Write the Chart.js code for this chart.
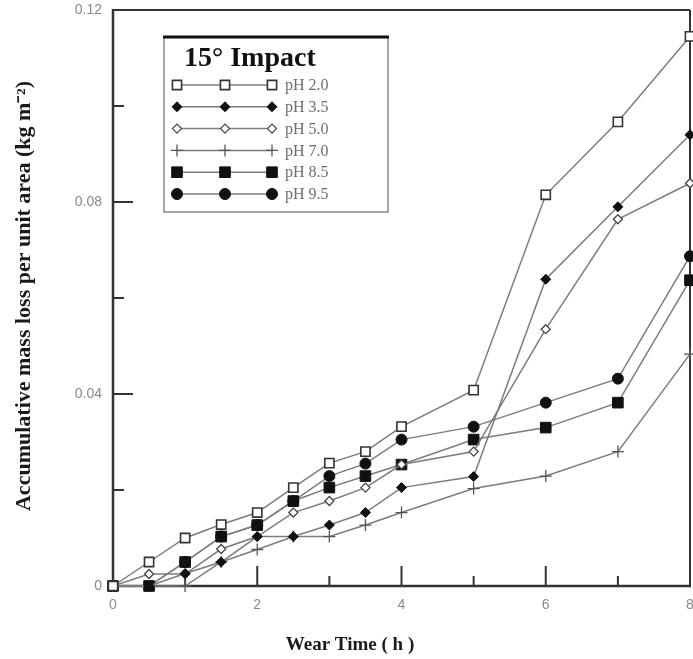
<!DOCTYPE html>
<html><head><meta charset="utf-8">
<script src="https://cdn.jsdelivr.net/npm/chart.js@4/dist/chart.umd.min.js"></script>
<style>html,body{margin:0;padding:0;background:#fff}#wrap{width:693px;height:659px;position:relative}</style>
</head><body><div id="wrap"><canvas id="c" width="693" height="659"></canvas></div>
<script>
const wearTime = [0, 0.5, 1, 1.5, 2, 2.5, 3, 3.5, 4, 5, 6, 7, 8];
const pH20 = [0, 0.005, 0.010, 0.0128, 0.0153, 0.0205, 0.0256, 0.028, 0.0332, 0.0408, 0.0815, 0.0967, 0.1145];
const pH35 = [0, 0, 0.0026, 0.005, 0.0103, 0.0103, 0.0127, 0.0153, 0.0205, 0.0228, 0.0639, 0.079, 0.094];
const pH50 = [0, 0.0025, 0.0025, 0.0077, 0.0103, 0.0153, 0.0177, 0.0205, 0.0253, 0.028, 0.0535, 0.0764, 0.0839];
const pH70 = [0, 0, 0, 0.005, 0.0076, 0.0103, 0.0103, 0.0127, 0.0153, 0.0203, 0.0229, 0.028, 0.0483];
const pH85 = [0, 0, 0.005, 0.0103, 0.0127, 0.0177, 0.0205, 0.0229, 0.0253, 0.0305, 0.033, 0.0382, 0.0637];
const pH95 = [0, 0, 0.005, 0.0103, 0.0127, 0.0177, 0.0229, 0.0255, 0.0305, 0.0332, 0.0382, 0.0432, 0.0687];
const seriesLabels = ['pH 2.0', 'pH 3.5', 'pH 5.0', 'pH 7.0', 'pH 8.5', 'pH 9.5'];
const xTickLabels = ['0', '2', '4', '6', '8'];
const yTickLabels = ['0', '0.04', '0.08', '0.12'];
const legendTitle = '15\u00B0 Impact';
const xTitle = 'Wear Time ( h )';
const yTitle = 'Accumulative mass loss per unit area (kg m\u207B\u00B2)';

const seriesValues = [pH20, pH35, pH50, pH70, pH85, pH95];
const markerStyles = [
  {pointStyle: 'rect', radius: 6.5, fill: '#ffffff', border: '#333333', bw: 1.6},
  {pointStyle: 'rectRot', radius: 5, fill: '#111111', border: '#111111', bw: 1},
  {pointStyle: 'rectRot', radius: 4.5, fill: '#ffffff', border: '#444444', bw: 1.3},
  {pointStyle: 'cross', radius: 6, fill: '#555555', border: '#555555', bw: 1.3},
  {pointStyle: 'rect', radius: 7.5, fill: '#111111', border: '#111111', bw: 1},
  {pointStyle: 'circle', radius: 5.5, fill: '#111111', border: '#111111', bw: 1}
];
const LINE_COLOR = '#7c7c7c';
const TICK_FONT = "'Liberation Sans Narrow', 'Liberation Sans', Arial, sans-serif";
const SERIF = "'Liberation Serif', 'Times New Roman', serif";

const datasets = seriesValues.map((vals, i) => ({
  label: seriesLabels[i],
  data: wearTime.map((t, j) => ({x: t, y: vals[j]})),
  borderColor: LINE_COLOR,
  borderWidth: 1.5,
  pointStyle: markerStyles[i].pointStyle,
  pointRadius: markerStyles[i].radius,
  pointHoverRadius: markerStyles[i].radius,
  pointBackgroundColor: markerStyles[i].fill,
  pointBorderColor: markerStyles[i].border,
  pointBorderWidth: markerStyles[i].bw,
  tension: 0,
  fill: false,
  clip: false
}));

function drawMarker(ctx, st, x, y) {
  ctx.save();
  ctx.fillStyle = st.fill;
  ctx.strokeStyle = st.border;
  ctx.lineWidth = st.bw;
  if (Chart.helpers && Chart.helpers.drawPoint) {
    Chart.helpers.drawPoint(ctx, {pointStyle: st.pointStyle, radius: st.radius, rotation: 0, borderWidth: st.bw}, x, y);
  }
  ctx.restore();
}

const decor = {
  id: 'decor',
  beforeDatasetsDraw(chart) {
    const ctx = chart.ctx, a = chart.chartArea;
    const xs = chart.scales.x, ys = chart.scales.y;
    ctx.save();
    ctx.strokeStyle = '#333333';
    ctx.lineCap = 'butt';
    ctx.lineWidth = 2;
    ctx.beginPath();
    ctx.moveTo(a.left, a.top); ctx.lineTo(a.right, a.top);
    ctx.moveTo(a.right, a.top); ctx.lineTo(a.right, a.bottom);
    ctx.stroke();
    ctx.lineWidth = 2.5;
    ctx.beginPath();
    ctx.moveTo(a.left, a.top - 1); ctx.lineTo(a.left, a.bottom);
    ctx.lineTo(a.right + 1, a.bottom);
    ctx.stroke();
    ctx.lineWidth = 2;
    ctx.beginPath();
    for (let v = 1; v < 8; v++) {
      const px = xs.getPixelForValue(v);
      const len = (v % 2 === 0) ? 20 : 10;
      ctx.moveTo(px, a.bottom); ctx.lineTo(px, a.bottom - len);
    }
    for (let k = 1; k < 6; k++) {
      const py = ys.getPixelForValue(k * 0.02);
      const len = (k % 2 === 0) ? 20 : 11;
      ctx.moveTo(a.left, py); ctx.lineTo(a.left + len, py);
    }
    ctx.stroke();
    ctx.restore();
  },
  afterDraw(chart) {
    const ctx = chart.ctx, a = chart.chartArea;
    ctx.save();
    ctx.fillStyle = '#1a1a1a';
    ctx.font = "bold 19px " + SERIF;
    ctx.textAlign = 'center';
    ctx.textBaseline = 'middle';
    ctx.fillText(xTitle, a.left + 237, 645);
    ctx.save();
    ctx.translate(25, 296);
    ctx.rotate(-Math.PI / 2);
    ctx.scale(1.1, 1);
    ctx.font = "bold 20px " + SERIF;
    ctx.fillText(yTitle, 0, 0);
    ctx.restore();
    const L = 164, T = 37, R = 388, B = 212;
    ctx.fillStyle = '#ffffff';
    ctx.fillRect(L, T, R - L, B - T);
    ctx.strokeStyle = '#8a8a8a';
    ctx.lineWidth = 1.5;
    ctx.strokeRect(L, T, R - L, B - T);
    ctx.strokeStyle = '#111111';
    ctx.lineWidth = 3;
    ctx.beginPath(); ctx.moveTo(L - 1, T); ctx.lineTo(R + 1, T); ctx.stroke();
    ctx.fillStyle = '#111111';
    ctx.font = "bold 28px " + SERIF;
    ctx.textAlign = 'left';
    ctx.textBaseline = 'alphabetic';
    ctx.fillText(legendTitle, 184, 66);
    ctx.font = "16px " + SERIF;
    ctx.textBaseline = 'middle';
    for (let i = 0; i < seriesLabels.length; i++) {
      const y = 85 + i * 21.8;
      ctx.strokeStyle = LINE_COLOR;
      ctx.lineWidth = 1.5;
      ctx.beginPath(); ctx.moveTo(177, y); ctx.lineTo(272, y); ctx.stroke();
      [177, 225, 272].forEach(x => drawMarker(ctx, markerStyles[i], x, y));
      ctx.fillStyle = '#6e6e6e';
      ctx.fillText(seriesLabels[i], 285, y + 1);
    }
    ctx.restore();
  }
};

new Chart(document.getElementById('c'), {
  type: 'line',
  data: {datasets},
  options: {
    responsive: false,
    animation: false,
    events: [],
    layout: {autoPadding: false, padding: {top: 10, right: 3, left: 0, bottom: 0}},
    plugins: {legend: {display: false}, tooltip: {enabled: false}, title: {display: false}},
    scales: {
      x: {
        type: 'linear', min: 0, max: 8,
        grid: {display: false, drawTicks: false},
        border: {display: false},
        ticks: {
          stepSize: 2, padding: 11, color: '#8a8a8a', maxRotation: 0,
          font: {family: TICK_FONT, size: 14},
          callback: (v) => { const i = xTickLabels.indexOf(String(v)); return i >= 0 ? xTickLabels[i] : ''; }
        },
        afterFit: (s) => { s.height = 73; s.paddingLeft = 0; s.paddingRight = 0; }
      },
      y: {
        type: 'linear', min: 0, max: 0.12,
        grid: {display: false, drawTicks: false},
        border: {display: false},
        ticks: {
          stepSize: 0.04, padding: 11, color: '#8a8a8a',
          font: {family: TICK_FONT, size: 14},
          callback: (v) => yTickLabels[Math.round(v / 0.04)] || ''
        },
        afterFit: (s) => { s.width = 113; s.paddingTop = 0; s.paddingBottom = 0; }
      }
    }
  },
  plugins: [decor]
});
</script>
</body></html>
